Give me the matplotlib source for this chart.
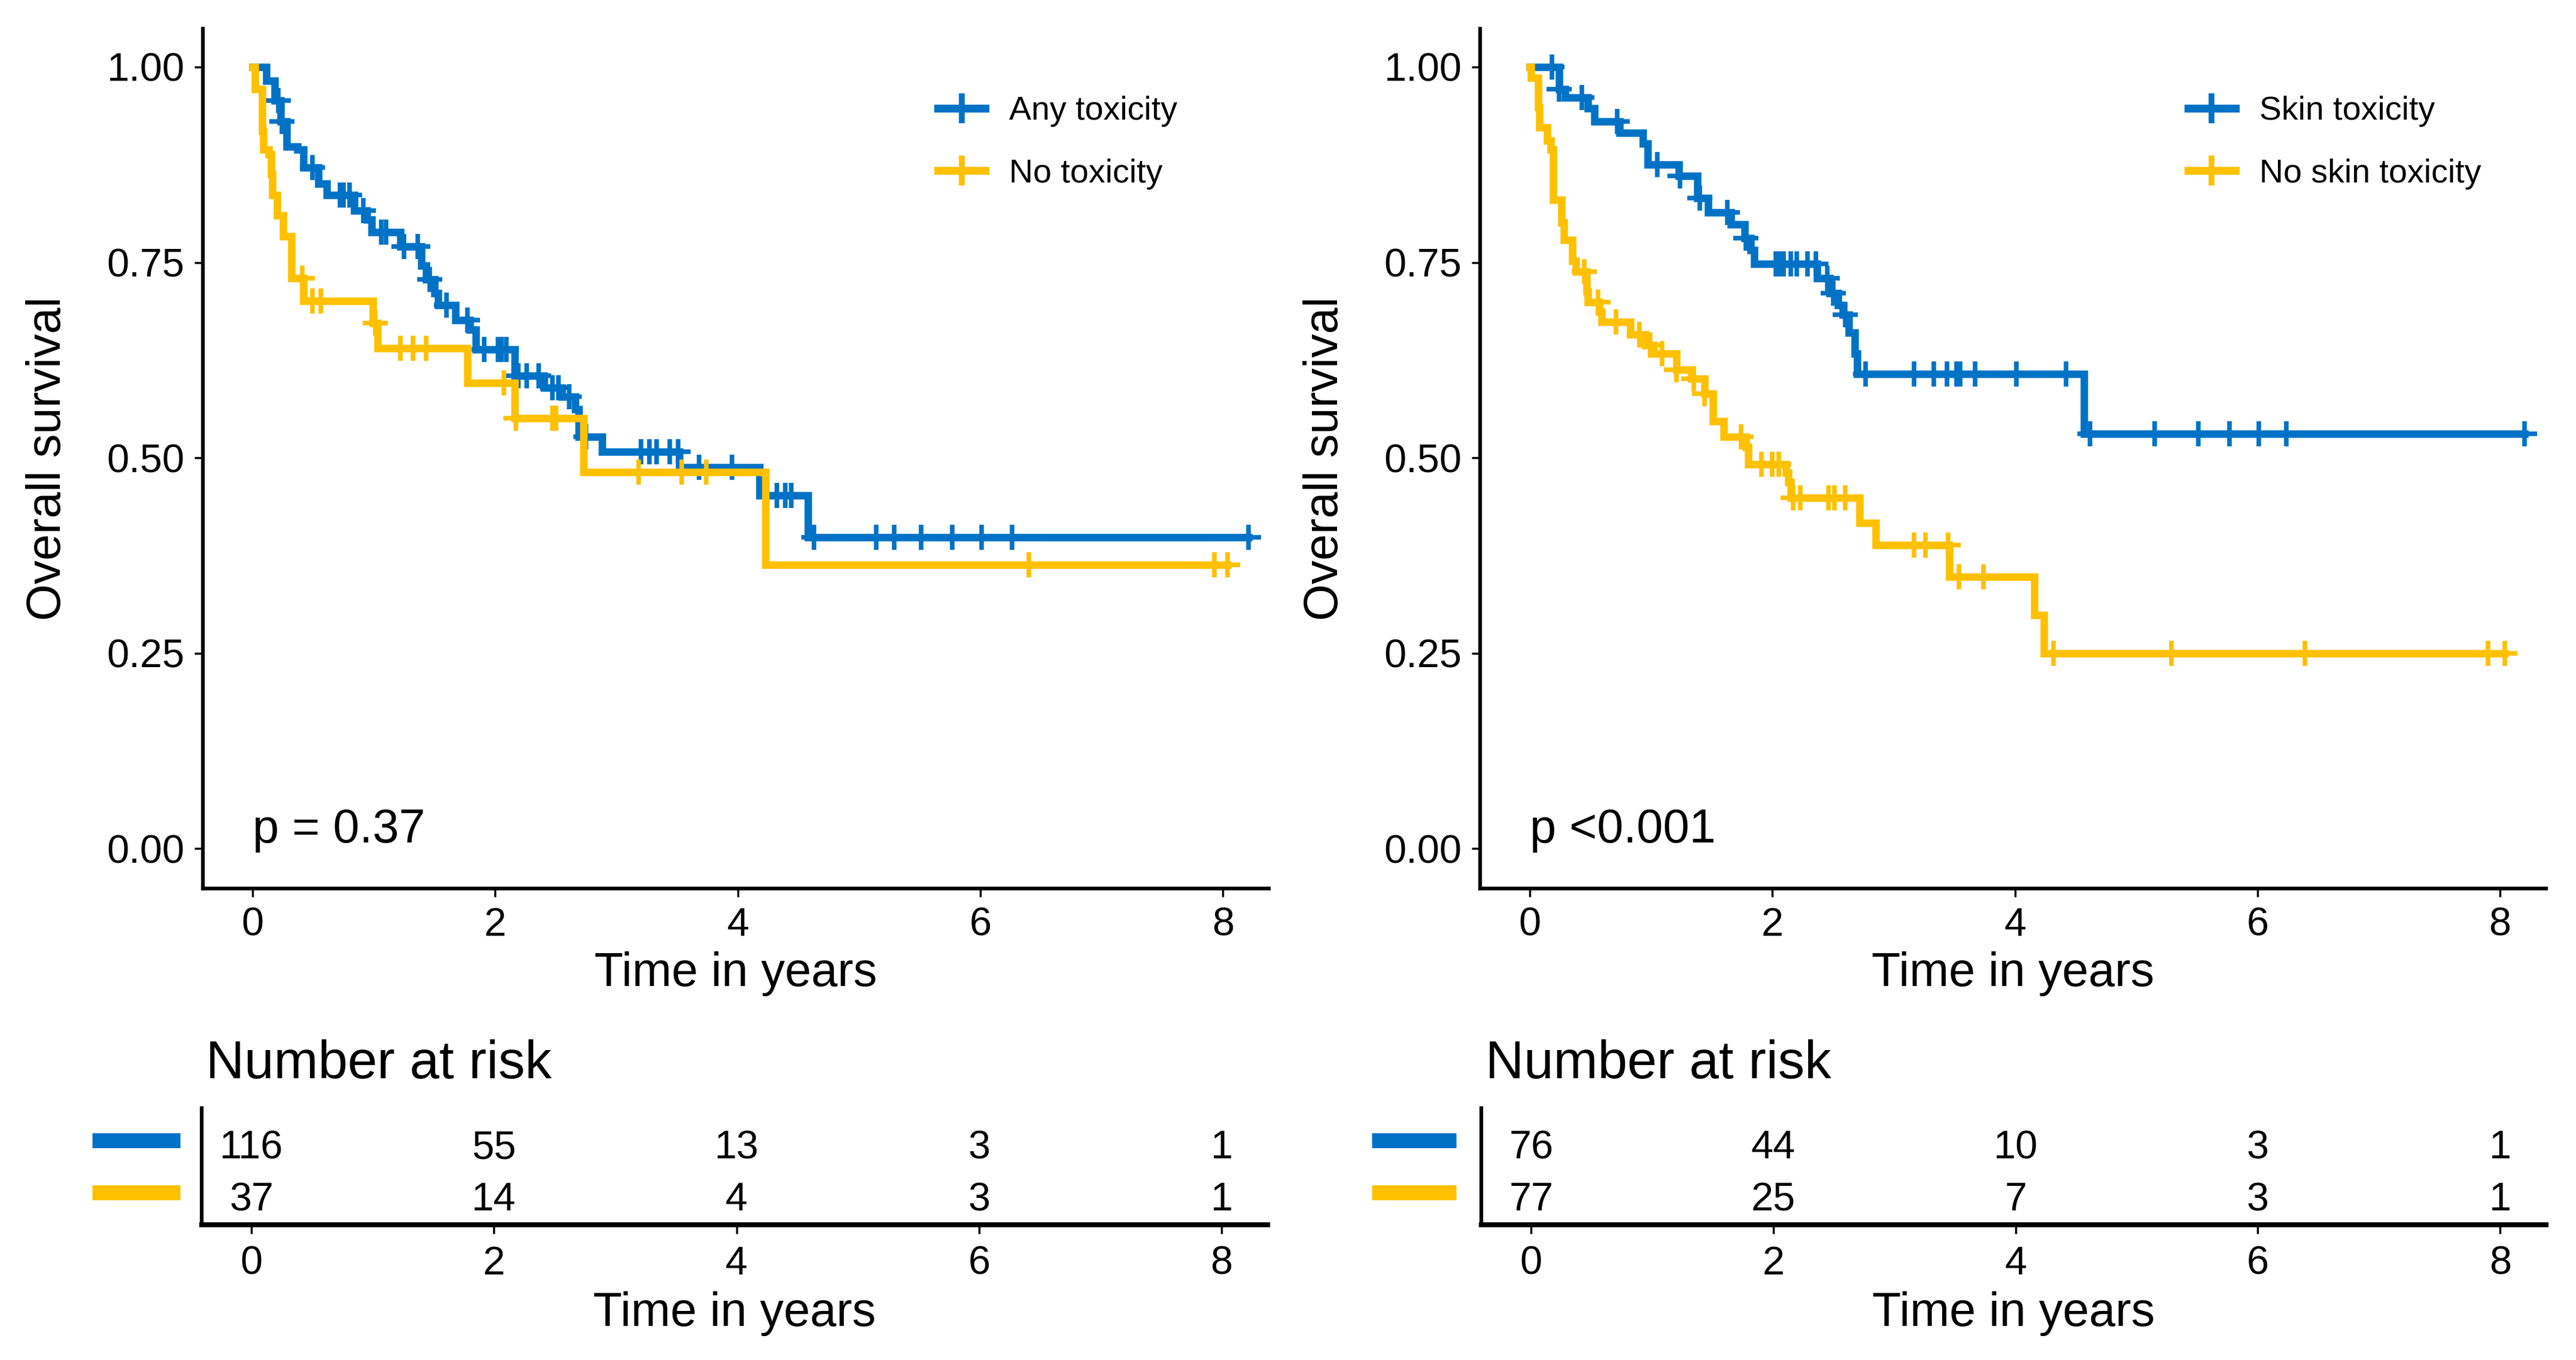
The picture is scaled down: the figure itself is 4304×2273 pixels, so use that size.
import numpy as np
import matplotlib
matplotlib.use("Agg")
import matplotlib.pyplot as plt
from matplotlib.lines import Line2D
from matplotlib.transforms import blended_transform_factory

plt.rcParams["font.family"] = ["Liberation Sans", "DejaVu Sans"]

BLUE = "#0072C6"
YELLOW = "#FFC000"

# ---- left panel: any toxicity vs no toxicity ----
any_t = [0, 0.11, 0.18, 0.23, 0.28, 0.37, 0.42, 0.54, 0.61, 0.84, 0.94, 0.98, 1.22,
         1.39, 1.43, 1.50, 1.53, 1.67, 1.79, 1.84, 2.16, 2.40, 2.55, 2.66, 2.69, 2.88,
         3.52, 4.18, 4.58]
any_s = [1.0, 0.982, 0.957, 0.930, 0.898, 0.894, 0.871, 0.851, 0.836, 0.816, 0.805,
         0.789, 0.770, 0.746, 0.728, 0.711, 0.695, 0.676, 0.664, 0.639, 0.605, 0.590,
         0.578, 0.562, 0.527, 0.508, 0.488, 0.452, 0.398]
any_cens = [0.21, 0.24, 0.49, 0.72, 0.75, 0.80, 0.91, 1.06, 1.10, 1.25, 1.36, 1.46,
            1.60, 1.77, 1.91, 2.02, 2.05, 2.09, 2.19, 2.26, 2.36, 2.47, 2.52, 2.61,
            2.75, 3.20, 3.27, 3.33, 3.44, 3.51, 3.68, 3.95, 4.32, 4.39, 4.44, 4.63,
            5.14, 5.29, 5.51, 5.77, 6.01, 6.26, 8.21]

no_t = [0, 0.02, 0.08, 0.09, 0.13, 0.15, 0.16, 0.20, 0.25, 0.32, 0.42, 0.99, 1.03,
        1.77, 2.16, 2.73, 4.23]
no_s = [1.0, 0.972, 0.918, 0.894, 0.888, 0.863, 0.836, 0.810, 0.783, 0.730, 0.701,
        0.672, 0.640, 0.596, 0.551, 0.482, 0.363]
no_cens = [0.41, 0.49, 0.56, 1.01, 1.22, 1.32, 1.43, 2.07, 2.17, 2.47, 2.50, 3.18,
           3.54, 3.74, 6.40, 7.93, 8.04]

# ---- right panel: skin toxicity vs no skin toxicity ----
skin_t = [0, 0.24, 0.29, 0.48, 0.53, 0.74, 0.93, 0.97, 1.23, 1.38, 1.47, 1.66, 1.77,
          1.82, 1.85, 2.37, 2.47, 2.54, 2.58, 2.63, 2.68, 2.70, 4.57]
skin_s = [1.0, 0.972, 0.961, 0.947, 0.930, 0.916, 0.902, 0.875, 0.861, 0.832, 0.814,
          0.799, 0.781, 0.766, 0.748, 0.730, 0.711, 0.695, 0.683, 0.660, 0.633, 0.607,
          0.531]
skin_cens = [0.18, 0.24, 0.43, 0.72, 1.05, 1.24, 1.40, 1.63, 1.78, 2.03, 2.06, 2.09,
             2.15, 2.20, 2.29, 2.36, 2.45, 2.50, 2.60, 2.77, 3.17, 3.33, 3.44, 3.52,
             3.55, 3.67, 4.01, 4.42, 4.62, 5.15, 5.51, 5.77, 6.01, 6.24, 8.20]

noskin_t = [0, 0.01, 0.07, 0.08, 0.14, 0.17, 0.19, 0.26, 0.28, 0.35, 0.38, 0.47, 0.48,
            0.57, 0.59, 0.83, 0.95, 1.02, 1.21, 1.33, 1.44, 1.51, 1.60, 1.78, 1.80,
            2.11, 2.13, 2.15, 2.72, 2.85, 3.46, 4.16, 4.24]
noskin_s = [1.0, 0.986, 0.949, 0.923, 0.906, 0.894, 0.830, 0.801, 0.779, 0.752, 0.738,
            0.713, 0.699, 0.687, 0.674, 0.658, 0.644, 0.633, 0.613, 0.601, 0.582, 0.547,
            0.527, 0.514, 0.492, 0.481, 0.469, 0.449, 0.417, 0.388, 0.348, 0.299, 0.250]
noskin_cens = [0.45, 0.56, 0.71, 0.90, 0.99, 1.09, 1.21, 1.35, 1.44, 1.74, 1.91, 2.00,
               2.05, 2.17, 2.23, 2.46, 2.51, 2.60, 3.17, 3.26, 3.45, 3.54, 3.74, 4.32,
               5.29, 6.39, 7.90, 8.04]

risk_times = [0, 2, 4, 6, 8]
risk_left = {"Any toxicity": [116, 55, 13, 3, 1], "No toxicity": [37, 14, 4, 3, 1]}
risk_right = {"Skin toxicity": [76, 44, 10, 3, 1], "No skin toxicity": [77, 25, 7, 3, 1]}

p_left = "p = 0.37"
p_right = "p <0.001"

XLIM = (-0.41, 8.38)


def km_curve(ax, t, s, cens, color, label):
    t = np.asarray(t)
    s = np.asarray(s)
    cens = np.asarray(cens)
    tt = np.append(t, cens.max())
    ss = np.append(s, s[-1])
    ax.step(tt, ss, where="post", color=color, lw=9, solid_joinstyle="miter")
    idx = np.searchsorted(t, cens, side="right") - 1
    ax.plot(cens, s[idx], ls="none", marker="+", ms=30, mew=5.5, color=color)
    return Line2D([], [], color=color, lw=9.5, marker="+", ms=36, mew=7, label=label)


def style_axes(ax):
    for side in ["top", "right"]:
        ax.spines[side].set_visible(False)
    for side in ["left", "bottom"]:
        ax.spines[side].set_linewidth(4.5)
    ax.tick_params(axis="both", length=10, width=2.5, pad=12, labelsize=48)


def km_panel(ax, curves, ptext, leg_x):
    handles = []
    for t, s, c, col, lab in curves:
        handles.append(km_curve(ax, t, s, c, col, lab))
    style_axes(ax)
    ax.set_xlim(*XLIM)
    ax.set_ylim(-0.051, 1.049)
    ax.set_xticks([0, 2, 4, 6, 8])
    ax.set_yticks([0, 0.25, 0.5, 0.75, 1.0])
    ax.set_yticklabels(["0.00", "0.25", "0.50", "0.75", "1.00"])
    ax.set_ylabel("Overall survival", fontsize=57, va="center")
    ax.yaxis.set_label_coords(-0.145, 0.5)
    ax.set_xlabel("Time in years", fontsize=57)
    ax.xaxis.set_label_coords(0.5, -0.073)
    ax.text(0, 0.008, ptext, fontsize=57, ha="left", va="baseline")
    ax.legend(handles=handles, loc="upper left", bbox_to_anchor=(leg_x, 0.922),
              frameon=False, fontsize=40, handlelength=1.42, handletextpad=0.72,
              labelspacing=0.95, borderpad=0, borderaxespad=0)


def risk_panel(ax, risk, colors, bar_x):
    style_axes(ax)
    ax.spines["bottom"].set_linewidth(6)
    ax.tick_params(axis="y", left=False, labelleft=False)
    ax.tick_params(axis="x", pad=14, length=11)
    ax.set_xlim(*XLIM)
    ax.set_ylim(0.724, 2.966)
    ax.set_xticks(risk_times)
    trans = blended_transform_factory(ax.transAxes, ax.transData)
    rows = [2, 1]
    for (name, vals), col, row in zip(risk.items(), colors, rows):
        for x, n in zip(risk_times, vals):
            ax.text(x, row, str(n), ha="center", va="baseline", fontsize=48)
        ax.plot(bar_x, [row + 0.35, row + 0.35], transform=trans, color=col,
                lw=18, solid_capstyle="butt", clip_on=False)
    ax.text(0.004, 1.256, "Number at risk", transform=ax.transAxes, ha="left",
            va="baseline", fontsize=64)
    ax.set_xlabel("Time in years", fontsize=57)
    ax.xaxis.set_label_coords(0.5, -0.57)


fig = plt.figure(figsize=(43.04, 22.73), dpi=100)

ax1 = fig.add_axes([0.0788, 0.3467, 0.4138, 0.6322])
km_panel(ax1, [(any_t, any_s, any_cens, BLUE, "Any toxicity"),
               (no_t, no_s, no_cens, YELLOW, "No toxicity")], p_left, 0.6895)

ax2 = fig.add_axes([0.5746, 0.3467, 0.4138, 0.6322])
km_panel(ax2, [(skin_t, skin_s, skin_cens, BLUE, "Skin toxicity"),
               (noskin_t, noskin_s, noskin_cens, YELLOW, "No skin toxicity")],
         p_right, 0.664)

ax3 = fig.add_axes([0.0783, 0.0994, 0.4138, 0.0858])
risk_panel(ax3, risk_left, [BLUE, YELLOW], [-0.103, -0.020])

ax4 = fig.add_axes([0.5751, 0.0994, 0.4133, 0.0858])
risk_panel(ax4, risk_right, [BLUE, YELLOW], [-0.103, -0.024])

fig.savefig("out.png", dpi=100, facecolor="white")
